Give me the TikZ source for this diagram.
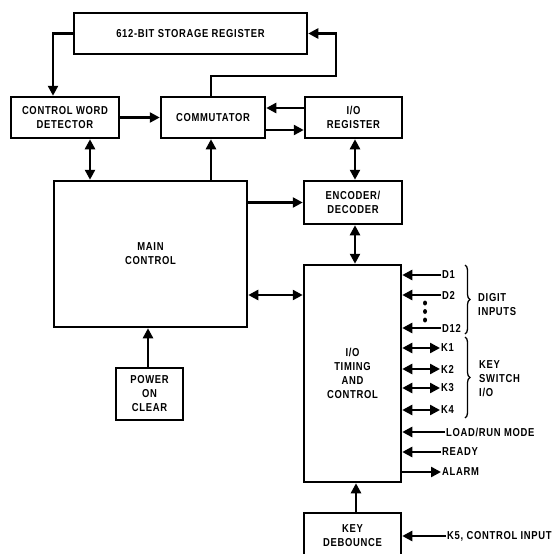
\documentclass[tikz,border=0pt]{standalone}
\usepackage{fontspec}
\newfontfamily\lbl[FakeStretch=0.82,LetterSpace=6]{Liberation Sans Bold}
\usetikzlibrary{arrows.meta,decorations.pathreplacing}
\begin{document}
\begin{tikzpicture}[x=1pt,y=-1pt,
  txt/.style={font=\lbl\fontsize{11.5}{14}\selectfont},
  box/.style={txt, draw, line width=2.5pt, inner sep=0pt, align=center},
  sig/.style={txt, anchor=west, inner sep=1pt},
  arr/.style={line width=2.4pt, -{Triangle[length=10pt,width=10pt]}},
  darr/.style={line width=2.4pt, {Triangle[length=10pt,width=10pt]}-{Triangle[length=10pt,width=10pt]}},
  brc/.style={decorate, decoration={brace, amplitude=5pt}, line width=1.3pt}]
\useasboundingbox (0,0) rectangle (555,554);
\clip (0,0) rectangle (555,554);

% boxes
\node[box, minimum width=233pt, minimum height=41pt] (stor) at (190.5,33.5) {612-BIT STORAGE REGISTER};
\node[box, minimum width=108pt, minimum height=41pt] (cwd) at (65,117.5) {CONTROL WORD\\DETECTOR};
\node[box, minimum width=104pt, minimum height=41pt] (comm) at (213,117.5) {COMMUTATOR};
\node[box, minimum width=97pt, minimum height=41pt] (ioreg) at (353.5,117.5) {I/O\\REGISTER};
\node[box, minimum width=98pt, minimum height=43pt] (enc) at (353,202.5) {ENCODER/\\DECODER};
\node[box, minimum width=193pt, minimum height=146pt] (main) at (150.5,254) {MAIN\\CONTROL};
\node[box, minimum width=67pt, minimum height=52pt] (poc) at (149.5,394) {POWER\\ON\\CLEAR};
\node[box, minimum width=97pt, minimum height=217pt] (iot) at (352.5,373.5) {I/O\\TIMING\\AND\\CONTROL};
\node[box, minimum width=97pt, minimum height=45pt] (kd) at (352.5,535.5) {KEY\\DEBOUNCE};

% top connectors
\coordinate (bend) at (336,76);
\draw[arr] (stor.west) -| ([xshift=-12pt]cwd.north);
\draw[arr] ([xshift=-2pt]comm.north) |- (bend) |- (stor.east);
\draw[arr] (cwd.east) -- (comm.west);
\draw[arr] ([yshift=9.5pt]ioreg.west) -- ([yshift=9.5pt]comm.east);
\draw[arr] ([yshift=-12.5pt]comm.east) -- ([yshift=-12.5pt]ioreg.west);
\draw[darr] ([xshift=25pt]cwd.south) -- ([xshift=25pt]cwd.south |- main.north);
\draw[arr] ([xshift=-2pt]comm.south |- main.north) -- ([xshift=-2pt]comm.south);
\draw[darr] ([xshift=1.5pt]ioreg.south) -- ([xshift=1.5pt]ioreg.south |- enc.north);
\draw[arr] (main.east |- enc.west) -- (enc.west);
\draw[darr] ([yshift=-41pt]main.east) -- ([yshift=-41pt]main.east -| iot.west);
\draw[darr] ([xshift=2pt]enc.south) -- ([xshift=2pt]enc.south |- iot.north);
\draw[arr] ([xshift=-1.5pt]poc.north) -- ([xshift=-1.5pt]poc.north |- main.south);
\draw[arr] ([xshift=3.5pt]kd.north) -- ([xshift=3.5pt]kd.north |- iot.south);

% right-side signals
\node[sig] (d1) at (441,275) {D1};
\node[sig] (d2) at (441,295) {D2};
\node[sig] (d12) at (441,328) {D12};
\node[sig] (k1) at (440,348) {K1};
\node[sig] (k2) at (440,369) {K2};
\node[sig] (k3) at (440,388) {K3};
\node[sig] (k4) at (440,410) {K4};
\node[sig] (lr) at (445,432) {LOAD/RUN MODE};
\node[sig] (rdy) at (441,452) {READY};
\node[sig] (alm) at (441,472) {ALARM};
\node[sig] (k5) at (446,536) {K5, CONTROL INPUT};

\foreach \s in {d1,d2,d12,lr,rdy}
  \draw[arr] (\s.west) -- (\s.west -| iot.east);
\foreach \s in {k1,k2,k3,k4}
  \draw[darr] (\s.west -| iot.east) -- (\s.west);
\draw[arr] (alm.west -| iot.east) -- (alm.west);
\draw[arr] (k5.west) -- (k5.west -| kd.east);

\fill (425,303) ellipse (2pt and 2.5pt);
\fill (425,311.5) ellipse (2pt and 2.5pt);
\fill (425,320) ellipse (2pt and 2.5pt);

\draw[brc] (465,265) -- (465,334);
\draw[brc] (465,337) -- (465,418);
\node[txt, anchor=west, align=left, inner sep=0pt] (dig) at (478,305) {DIGIT\\INPUTS};
\node[txt, anchor=west, align=left, inner sep=0pt] (ksw) at (479,379) {KEY\\SWITCH\\I/O};
\end{tikzpicture}
\end{document}
